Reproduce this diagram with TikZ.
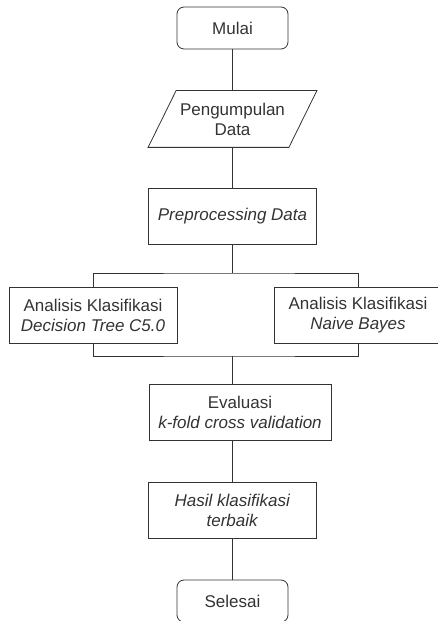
\documentclass[tikz,border=0pt]{standalone}
\usepackage{fontspec}
\setmainfont{Liberation Sans}
\usetikzlibrary{calc}
\definecolor{garis}{RGB}{51,51,51}

\begin{document}
\begin{tikzpicture}[x=1pt, y=1pt, garis, line width=0.8pt,
    kotak/.style={draw, align=center, minimum width=168pt, minimum height=56pt, inner sep=2pt, font=\fontsize{17}{20}\selectfont},
    terminal/.style={kotak, rounded corners=7pt, minimum width=111pt, minimum height=42pt}]

    \useasboundingbox (0,0) rectangle (438,621);

    \node[terminal] (mulai) at (232.5,593) {Mulai};
    \node[kotak, draw=none, minimum width=112pt] (data) at (232.5,502) {Pengumpulan\\Data};
    \draw (data.north west) -- ($(data.north east)+(28,0)$) -- (data.south east) -- ($(data.south west)+(-28,0)$) -- cycle;
    \node[kotak] (pre) at (232.5,405) {\textit{Preprocessing Data}};
    \node[kotak] (dt) at (93,306) {Analisis Klasifikasi\\\textit{Decision Tree C5.0}};
    \node[kotak] (nb) at (358,306) {Analisis Klasifikasi\\\textit{Naive Bayes}};
    \node[kotak, minimum width=182pt] (eval) at (240,209) {Evaluasi\\\textit{k-fold cross validation}};
    \node[kotak] (hasil) at (232.5,110.5) {\textit{Hasil klasifikasi}\\\textit{terbaik}};
    \node[terminal] (selesai) at (232.5,20) {Selesai};

    % alur
    \coordinate (cabang) at (232.5,348);
    \coordinate (gabung) at (232.5,265);
    \draw (mulai) -- (data);
    \draw (data) -- (pre);
    \draw (pre) -- (cabang);
    \draw (dt.north) |- (cabang) -| (nb.north);
    \draw (dt.south) |- (gabung) -| (nb.south);
    \draw (gabung) -- (gabung |- eval.north);
    \draw (eval.south -| hasil.north) -- (hasil);
    \draw (hasil) -- (selesai);

\end{tikzpicture}
\end{document}
